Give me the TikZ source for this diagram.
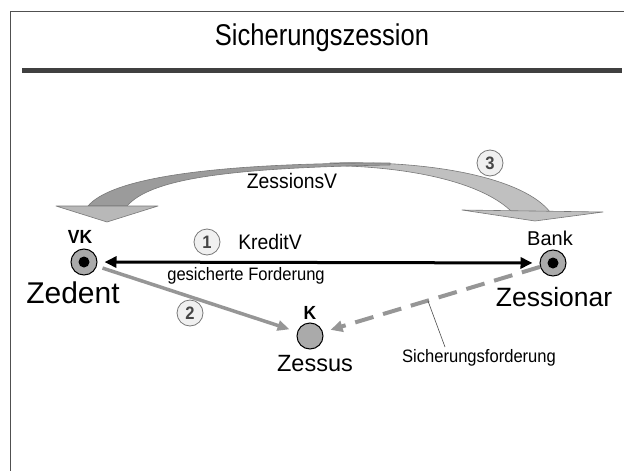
\documentclass[tikz,border=0pt]{standalone}
\usepackage{fontspec}
\setmainfont[FakeStretch=0.92]{Liberation Sans}
\newfontfamily\titlefont[FakeStretch=0.85]{Liberation Sans}
\newfontfamily\plainsans{Liberation Sans}
\usetikzlibrary{arrows.meta}

\definecolor{framegray}{RGB}{80,80,80}
\definecolor{rulegray}{RGB}{64,64,64}
\definecolor{partyfill}{RGB}{170,170,170}
\definecolor{linkgray}{RGB}{150,150,150}
\definecolor{arcdark}{RGB}{155,155,155}
\definecolor{arclight}{RGB}{192,192,192}
\definecolor{archead}{RGB}{184,184,184}
\definecolor{arcline}{RGB}{120,120,120}
\definecolor{numline}{RGB}{120,120,120}
\definecolor{numtext}{RGB}{70,70,70}

\tikzset{
  party/.style={circle, draw=black, line width=1pt, fill=partyfill,
                minimum size=26pt, inner sep=0pt},
  centredot/.style={circle, fill=black, minimum size=11pt, inner sep=0pt},
  numc/.style={circle, draw=numline, line width=0.8pt, fill=white!94!black,
               minimum size=26pt, inner sep=0pt, text=numtext,
               font=\bfseries\fontsize{18}{20}\selectfont},
  lbl/.style={inner sep=0pt},
  kredit/.style={line width=3pt, black,
                 {Triangle[length=12pt,width=11pt]}-{Triangle[length=12pt,width=11pt]},
                 shorten <=7pt, shorten >=7pt},
  cession/.style={line width=3.5pt, linkgray,
                  -{Triangle[length=12pt,width=10pt]},
                  shorten <=6pt, shorten >=8pt},
  security/.style={line width=4pt, linkgray, dash pattern=on 19pt off 10pt,
                   -{Triangle[length=12pt,width=11pt]},
                   shorten >=8pt},
  arcpart/.style={draw=arcline, line width=0.6pt, line join=round}
}

\begin{document}
\begin{tikzpicture}[x=1pt, y=-1pt]
\useasboundingbox (0,0) rectangle (624,471);
\fill[white] (0,0) rectangle (624,471);

% frame and title rule
\draw[framegray, line width=1.2pt] (10.5,471) -- (10.5,11.5) -- (624,11.5);
\node[lbl, anchor=base, font=\titlefont\fontsize{30}{34}\selectfont] (title) at (322,45.5) {Sicherungszession};
\draw[rulegray, line width=5pt] (22,70) -- (622,70);

% the broad curved arrow of the assignment (ZessionsV)
\path[arcpart, fill=arclight]
  (330,163) .. controls (440,160) and (525,180) .. (550,212)
  -- (512,212) .. controls (485,185) and (420,167) .. (330,165.5) -- cycle;
\path[arcpart, fill=arclight] (462,210) -- (603,212) -- (535,221) -- cycle;
\path[arcpart, fill=arcdark]
  (88,206) .. controls (110,180) and (200,163) .. (390,163)
  -- (390,165) .. controls (220,168) and (150,180) .. (127,206) -- cycle;
\path[arcpart, fill=archead] (56,206) -- (158,206) -- (107,222) -- cycle;

% parties
\node[party] (vk) at (84,262) {};
\node[centredot] (vkdot) at (vk) {};
\node[party] (bank) at (553,263) {};
\node[centredot] (bankdot) at (bank) {};
\node[party] (k) at (310,336) {};

\node[lbl, font=\bfseries\fontsize{19}{22}\selectfont] (vklab) at (80,237) {VK};
\node[lbl, font=\plainsans\fontsize{30}{34}\selectfont] (zedent) at (73,293) {Zedent};
\node[lbl, font=\plainsans\fontsize{20}{23}\selectfont] (banklab) at (550,238) {Bank};
\node[lbl, font=\plainsans\fontsize{26.5}{30}\selectfont] (zessionar) at (554,297) {Zessionar};
\node[lbl, font=\bfseries\fontsize{19}{22}\selectfont] (klab) at (310,313) {K};
\node[lbl, font=\plainsans\fontsize{23.5}{27}\selectfont] (zessus) at (315,364) {Zessus};

% relations
\draw[kredit] (bank) -- (vk);
\draw[cession] (vk) -- (k);
\draw[security] (bank) -- (k);

% labels and step numbers
\node[numc] (n1) at (207,242) {1};
\node[lbl, font=\fontsize{21}{24}\selectfont] (kreditv) at (270,242) {KreditV};
\node[lbl, font=\fontsize{18}{21}\selectfont] (gesfo) at (246,276) {gesicherte Forderung};
\node[numc] (n2) at (190,313) {2};
\node[numc] (n3) at (490,163) {3};
\node[lbl, font=\fontsize{21}{24}\selectfont] (zessv) at (292,181) {ZessionsV};
\node[lbl, font=\fontsize{18}{21}\selectfont] (sifo) at (479,358) {Sicherungsforderung};

% pointer from the dashed relation to its label
\path (bank.center) -- (k.center) coordinate[pos=0.515] (ptr);
\coordinate (ptrend) at (445,347);
\draw[black!70, line width=0.6pt] (ptr) -- (ptrend);
\end{tikzpicture}
\end{document}
